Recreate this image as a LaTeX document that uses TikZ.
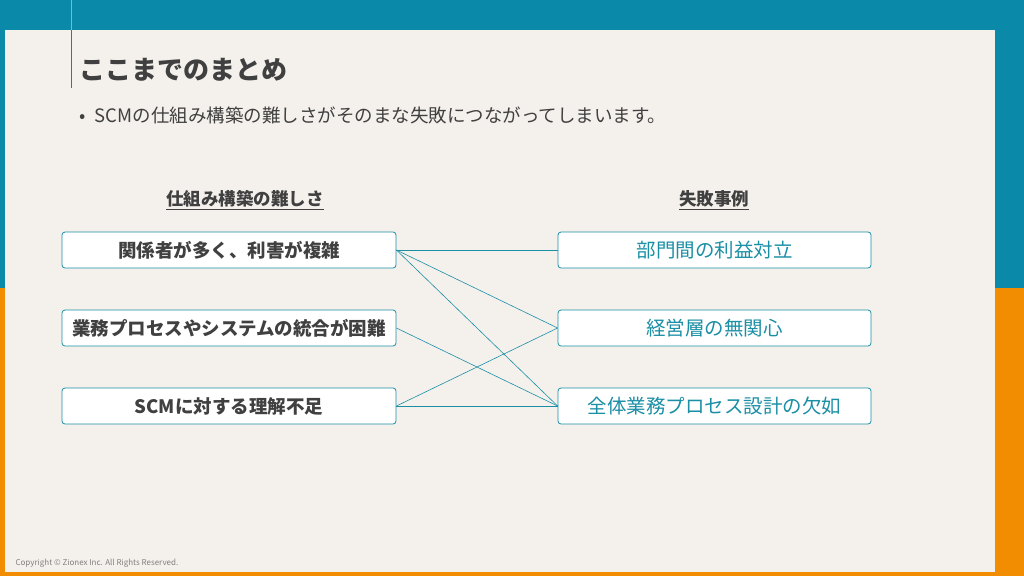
\documentclass[tikz,border=0pt]{standalone}
\usepackage{fontspec}
\setmainfont{Noto Sans CJK JP}
\usetikzlibrary{positioning}
\definecolor{teal}{HTML}{0A89A8}
\definecolor{orng}{HTML}{F28C00}
\definecolor{card}{HTML}{F4F0EC}
\definecolor{ink}{HTML}{404040}
\definecolor{aqua}{HTML}{1A8FA5}
\begin{document}
\begin{tikzpicture}[x=1pt, y=-1pt,
  leftbox/.style = {draw=aqua, rounded corners=3pt, fill=white, minimum width=334pt, minimum height=36pt, font=\bfseries\fontsize{18.5}{20}\selectfont, text=ink, line width=0.8pt},
  rightbox/.style = {draw=aqua, rounded corners=3pt, fill=white, minimum width=313pt, minimum height=36pt, font=\fontsize{19.5}{21}\selectfont, text=aqua, line width=0.8pt},
  head/.style = {font=\bfseries\fontsize{17.5}{20}\selectfont, text=ink},
  link/.style = {draw=aqua, line width=0.6pt}]
\useasboundingbox (0,0) rectangle (1024,576);
\fill[teal] (0,0) rectangle (1024,288);
\fill[orng] (0,288) rectangle (1024,576);
\fill[card] (5,30) rectangle (995,572);
\draw[aqua!60, line width=0.6pt] (71,0) -- (71,30);
\draw[ink!80, line width=0.6pt] (71,30) -- (71,88);
\node[anchor=west, font=\bfseries\fontsize{26}{30}\selectfont, text=ink] (title) at (76,70) {ここまでのまとめ};
\node[anchor=west, font=\fontsize{18.5}{22}\selectfont, text=ink] (bullet) at (76,115) {•\hspace{9pt}SCMの仕組み構築の難しさがそのまな失敗につながってしまいます。};

\node[head] (hl) at (245,200) {\underline{仕組み構築の難しさ}};
\node[head] (hr) at (714,200) {\underline{失敗事例}};

\node[leftbox] (L1) at (229,250) {関係者が多く、利害が複雑};
\node[leftbox] (L2) at (229,328) {業務プロセスやシステムの統合が困難};
\node[leftbox] (L3) at (229,406) {SCMに対する理解不足};
\node[rightbox] (R1) at (714.5,250) {部門間の利益対立};
\node[rightbox] (R2) at (714.5,328) {経営層の無関心};
\node[rightbox] (R3) at (714.5,406) {全体業務プロセス設計の欠如};

\draw[link] (L1.east) -- (R1.west);
\draw[link] (L1.east) -- (R2.west);
\draw[link] (L1.east) -- (R3.west);
\draw[link] (L2.east) -- (R3.west);
\draw[link] (L3.east) -- (R2.west);
\draw[link] (L3.east) -- (R3.west);

\node[anchor=west, font=\fontsize{8}{9}\selectfont, text=gray] (copy) at (12,563) {Copyright © Zionex Inc. All Rights Reserved.};
\end{tikzpicture}
\end{document}
